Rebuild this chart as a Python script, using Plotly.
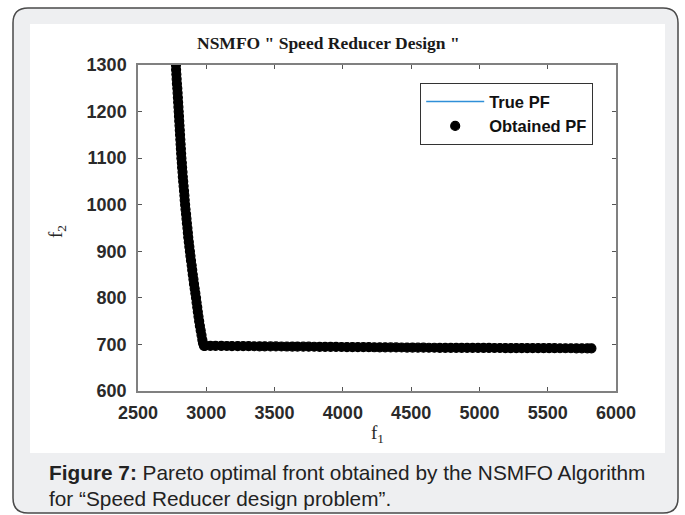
import plotly.graph_objects as go

# ---------------- data ----------------
# Obtained PF: steep branch
obt_f2_steep = [1300, 1290, 1280, 1270, 1260, 1250, 1240, 1230, 1220, 1210,
                1200, 1190, 1180, 1170, 1160, 1150, 1140, 1130, 1120, 1110,
                1100, 1090, 1080, 1070, 1060, 1050, 1040, 1030, 1020, 1010,
                1000, 990, 980, 970, 960, 950, 940, 930, 920, 910,
                900, 890, 880, 870, 860, 850, 840, 830, 820, 810,
                800, 790, 780, 770, 760, 750, 740, 730, 720, 710,
                703, 697]
obt_f1_steep = [2778, 2779, 2781, 2783, 2785, 2788, 2790, 2792, 2794, 2796,
                2798, 2800, 2802, 2804, 2806, 2808, 2810, 2812, 2814, 2816,
                2818, 2821, 2823, 2826, 2828, 2831, 2834, 2837, 2840, 2842,
                2845, 2848, 2852, 2855, 2858, 2862, 2865, 2868, 2872, 2876,
                2880, 2884, 2888, 2893, 2897, 2901, 2906, 2910, 2915, 2920,
                2925, 2929, 2934, 2938, 2943, 2948, 2953, 2959, 2965, 2971,
                2976, 2983]
# Obtained PF: flat branch
obt_f1_flat = [2990, 3030, 3068, 3110, 3150, 3188, 3230, 3270, 3310, 3350,
               3390, 3428, 3470, 3510, 3550, 3590, 3630, 3668, 3710, 3750,
               3790, 3830, 3870, 3910, 3950, 3990, 4030, 4070, 4110, 4150,
               4190, 4230, 4270, 4310, 4350, 4390, 4430, 4470, 4510, 4550,
               4590, 4630, 4670, 4710, 4750, 4790, 4830, 4870, 4910, 4950,
               4990, 5030, 5070, 5110, 5150, 5190, 5230, 5270, 5310, 5350,
               5390, 5430, 5470, 5510, 5550, 5590, 5630, 5670, 5710, 5750,
               5790, 5820]
obt_f2_flat = [697.0, 696.9, 696.8, 696.7, 696.6, 696.5, 696.4, 696.3, 696.2, 696.1,
               696.0, 695.9, 695.8, 695.7, 695.6, 695.5, 695.4, 695.3, 695.2, 695.1,
               695.0, 694.9, 694.8, 694.7, 694.6, 694.5, 694.4, 694.3, 694.2, 694.1,
               694.0, 693.9, 693.8, 693.7, 693.6, 693.5, 693.4, 693.3, 693.2, 693.1,
               693.0, 692.9, 692.9, 692.8, 692.8, 692.7, 692.7, 692.6, 692.6, 692.5,
               692.5, 692.4, 692.4, 692.3, 692.3, 692.2, 692.2, 692.1, 692.1, 692.0,
               692.0, 692.0, 691.9, 691.9, 691.9, 691.8, 691.8, 691.8, 691.7, 691.7,
               691.7, 691.7]

# True PF (reference front)
true_f1 = [2776, 2778, 2790, 2818, 2845, 2880, 2925, 2948, 2971, 2985,
           3000, 3500, 4000, 4500, 5000, 5500, 5820]
true_f2 = [1330, 1300, 1240, 1100, 1000, 900, 800, 750, 710, 696,
           696.8, 695.8, 694.5, 693.5, 692.5, 692.0, 691.7]

x_ticks = [2500, 3000, 3500, 4000, 4500, 5000, 5500, 6000]
y_ticks = [600, 700, 800, 900, 1000, 1100, 1200, 1300]

obt_f1 = obt_f1_steep + obt_f1_flat
obt_f2 = obt_f2_steep + obt_f2_flat

# ---------------- layout geometry (pixels) ----------------
W, H = 685, 515
L, R, T, B = 138, 616, 65, 391


def px(x):
    return (x - L) / (R - L)


def py(y):
    return (B - y) / (B - T)


fig = go.Figure()
fig.add_trace(go.Scatter(
    x=true_f1, y=true_f2, mode="lines", name="<b>True PF</b>",
    line=dict(color="#2F8FD8", width=1.5)))
fig.add_trace(go.Scatter(
    x=obt_f1, y=obt_f2, mode="markers", name="<b>Obtained PF</b>",
    marker=dict(color="black", size=9, line=dict(color="black", width=1.2))))

axis_common = dict(
    showgrid=False, zeroline=False, showline=True, mirror="ticks",
    linecolor="#808080", linewidth=1.5,
    ticks="inside", ticklen=4, tickcolor="#555555", tickwidth=1,
    tickfont=dict(family="Liberation Sans, Arial", size=18, color="#2a2a2a"),
)
fig.update_xaxes(range=[2500, 6000], tickvals=x_ticks,
                 ticktext=[f"<b>{v}</b>" for v in x_ticks],
                 ticklabelstandoff=5, **axis_common)
fig.update_yaxes(range=[600, 1300], tickvals=y_ticks,
                 ticktext=[f"<b>{v}</b>" for v in y_ticks],
                 ticklabelstandoff=6, **axis_common)

# panel shapes
r = 15
x0, x1, y0, y1 = 13, 678, 8, 513
path = (f"M {px(x0 + r)} {py(y0)} L {px(x1 - r)} {py(y0)} "
        f"Q {px(x1)} {py(y0)} {px(x1)} {py(y0 + r)} "
        f"L {px(x1)} {py(y1 - r)} Q {px(x1)} {py(y1)} {px(x1 - r)} {py(y1)} "
        f"L {px(x0 + r)} {py(y1)} Q {px(x0)} {py(y1)} {px(x0)} {py(y1 - r)} "
        f"L {px(x0)} {py(y0 + r)} Q {px(x0)} {py(y0)} {px(x0 + r)} {py(y0)} Z")
shapes = [
    dict(type="path", xref="paper", yref="paper", path=path,
         line=dict(color="#4a4a4a", width=1.5), fillcolor="#eeeff1", layer="below"),
    dict(type="rect", xref="paper", yref="paper",
         x0=px(30), x1=px(665), y0=py(453), y1=py(24),
         line=dict(width=0), fillcolor="white", layer="below"),
]

annotations = [
    dict(text='<b>NSMFO " Speed Reducer Design "</b>', x=px(328), y=py(43),
         xref="paper", yref="paper", showarrow=False, xanchor="center", yanchor="middle",
         font=dict(family="Liberation Serif, Times New Roman", size=17.5, color="#1a1a1a")),
    dict(text="f<sub>2</sub>", x=px(57), y=py(232), textangle=-90,
         xref="paper", yref="paper", showarrow=False, xanchor="center", yanchor="middle",
         font=dict(family="Liberation Serif, Times New Roman", size=19, color="#262626")),
    dict(text="f<sub>1</sub>", x=px(377), y=py(434),
         xref="paper", yref="paper", showarrow=False, xanchor="center", yanchor="middle",
         font=dict(family="Liberation Serif, Times New Roman", size=19, color="#262626")),
    dict(text="<b>Figure 7:</b> Pareto optimal front obtained by the NSMFO Algorithm",
         x=px(47), y=py(473), xref="paper", yref="paper", showarrow=False,
         xanchor="left", yanchor="middle",
         font=dict(family="Liberation Sans, Arial", size=20.8, color="#222222")),
    dict(text="for “Speed Reducer design problem”.",
         x=px(47), y=py(499), xref="paper", yref="paper", showarrow=False,
         xanchor="left", yanchor="middle",
         font=dict(family="Liberation Sans, Arial", size=20.8, color="#222222")),
]

fig.update_layout(
    width=W, height=H,
    margin=dict(l=L, r=W - R, t=T, b=H - B, pad=0),
    paper_bgcolor="#ffffff", plot_bgcolor="white",
    shapes=shapes, annotations=annotations,
    showlegend=True,
    legend=dict(x=px(593), y=py(83), xanchor="right", yanchor="top",
                bgcolor="white", bordercolor="#333333", borderwidth=1.2,
                font=dict(family="Liberation Sans, Arial", size=16.5, color="#111111"),
                itemwidth=58, tracegroupgap=0),
)

fig.write_html("out.html")
